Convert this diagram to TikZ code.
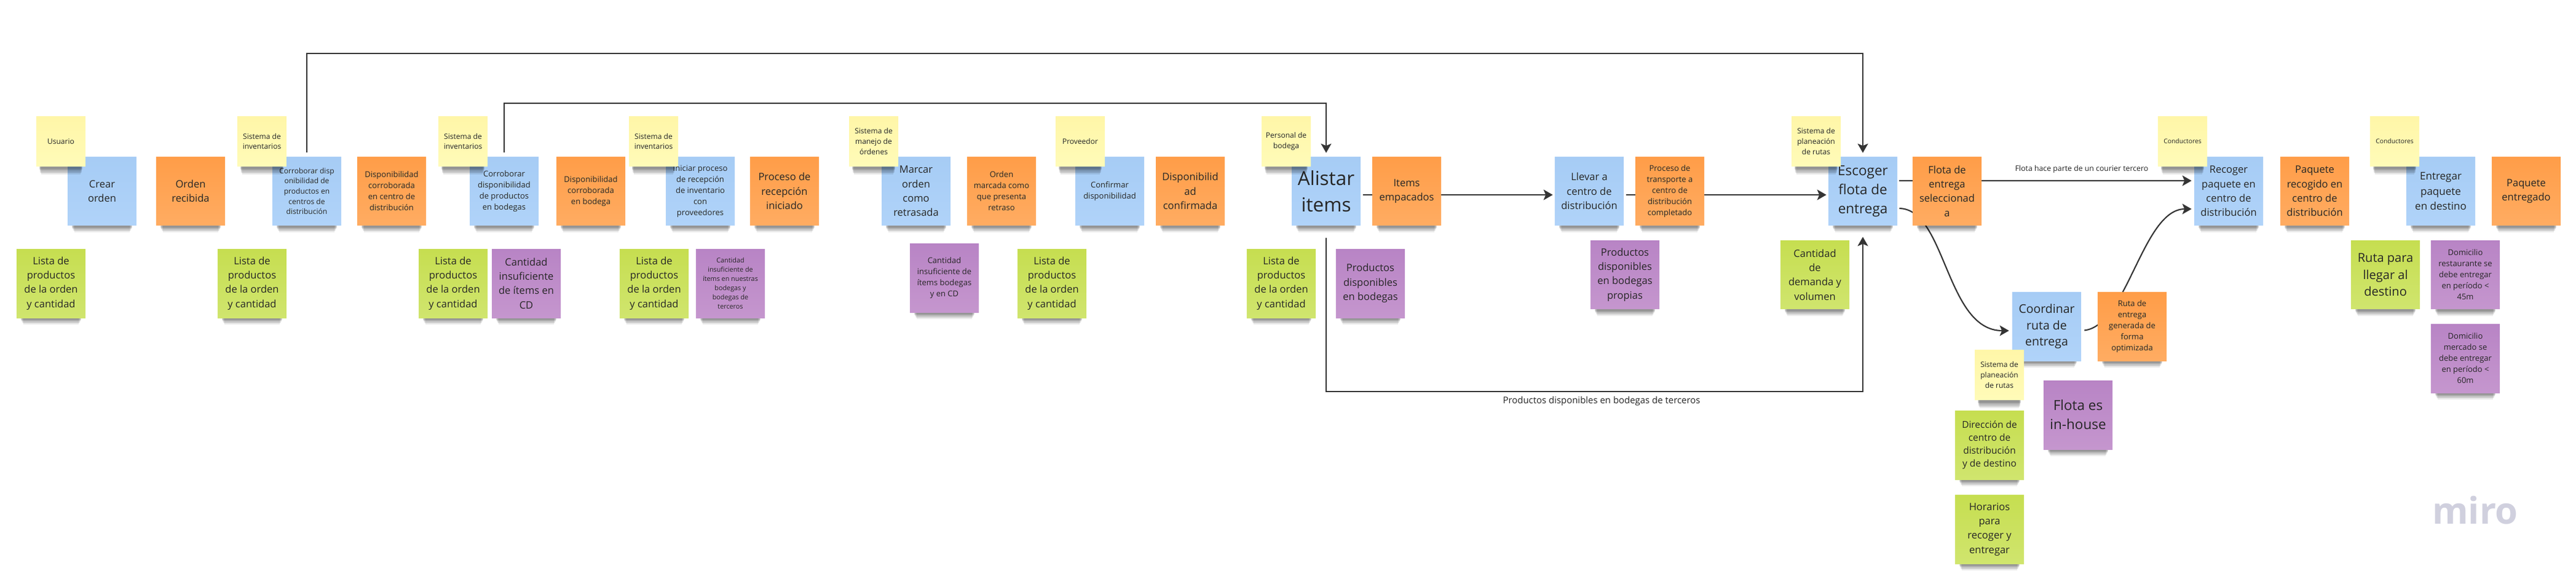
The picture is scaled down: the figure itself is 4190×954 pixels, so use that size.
\documentclass[tikz,border=0pt]{standalone}
\usepackage{fontspec}
\setmainfont{Open Sans}
\usepackage{xcolor}
\usetikzlibrary{arrows.meta, positioning, shadows}
\definecolor{activity}{RGB}{166,204,245}
\definecolor{activitylow}{RGB}{176,211,249}
\definecolor{event}{RGB}{255,157,72}
\definecolor{eventlow}{RGB}{255,172,98}
\definecolor{actor}{RGB}{255,246,168}
\definecolor{actorlow}{RGB}{255,251,184}
\definecolor{input}{RGB}{198,222,80}
\definecolor{inputlow}{RGB}{208,229,110}
\definecolor{issue}{RGB}{184,132,197}
\definecolor{issuelow}{RGB}{197,150,206}
\definecolor{wire}{RGB}{52,52,52}
\definecolor{brand}{RGB}{208,208,222}
\tikzset{
    softlayer/.style 2 args={general shadow={shadow scale=#1, shadow xshift=0pt, shadow yshift=-#2, fill=black, opacity=.075}},
    note/.style={rectangle, minimum width=2.24cm, minimum height=2.24cm, inner sep=0pt, text centered, align=center, text=black!85,
        softlayer={.80}{.55cm}, softlayer={.82}{.47cm}, softlayer={.84}{.40cm}, softlayer={.85}{.34cm},
        softlayer={.86}{.29cm}, softlayer={.87}{.25cm}, softlayer={.88}{.21cm}},
    activitynote/.style={note, top color=activity, bottom color=activitylow},
    eventnote/.style={note, top color=event, bottom color=eventlow},
    inputnote/.style={note, top color=input, bottom color=inputlow},
    issuenote/.style={note, top color=issue, bottom color=issuelow},
    actornote/.style={note, minimum width=1.6cm, minimum height=1.62cm, top color=actor, bottom color=actorlow, font=\fontsize{6.85}{9.5}\selectfont},
    fmed/.style={font=\fontsize{9.4}{13.3}\selectfont},
    fsmall/.style={font=\fontsize{7.4}{10.25}\selectfont},
    ftiny/.style={font=\fontsize{6.15}{8.5}\selectfont},
    flink/.style={->, line width=1.2pt, color=wire, >={Stealth[length=0.3cm, width=0.34cm, inset=0.07cm]}},
    wirelabel/.style={text=black!85, inner sep=0pt}
}
\begin{document}
\begin{tikzpicture}[x=0.02cm, y=-0.02cm]
    \useasboundingbox (0,0) rectangle (4190,954);

    % Activities
    \node[activitynote, fmed] (crear) at (166,311) {Crear\\ orden};
    \node[activitynote, font=\fontsize{6.85}{9.5}\selectfont] (corrcd) at (499,311) {Corroborar disp\\ onibilidad de\\ productos en\\ centros de\\ distribución};
    \node[activitynote, fsmall] (corrbod) at (820,311) {Corroborar\\ disponibilidad\\ de productos\\ en bodegas};
    \node[activitynote, fsmall] (iniciar) at (1139,311) {Iniciar proceso\\ de recepción\\ de inventario\\ con\\ proveedores};
    \node[activitynote, fmed] (marcar) at (1490,311) {Marcar\\ orden\\ como\\ retrasada};
    \node[activitynote, fsmall] (confirmar) at (1805,311) {Confirmar\\ disponibilidad};
    \node[activitynote, font=\fontsize{17.9}{24.7}\selectfont] (alistar) at (2157,311) {Alistar\\ items};
    \node[activitynote, fmed] (llevar) at (2585,311) {Llevar a\\ centro de\\ distribución};
    \node[activitynote, font=\fontsize{12.8}{17.6}\selectfont] (escoger) at (3030,311) {Escoger\\ flota de\\ entrega};
    \node[activitynote, font=\fontsize{11.1}{15.2}\selectfont] (coordinar) at (3329,531) {Coordinar\\ ruta de\\ entrega};
    \node[activitynote, fmed] (recoger) at (3625,311) {Recoger\\ paquete en\\ centro de\\ distribución};
    \node[activitynote, font=\fontsize{9.7}{13.7}\selectfont] (entregar) at (3970,311) {Entregar\\ paquete\\ en destino};

    % Flows, behind the events
    \coordinate (topfar) at (3030,87);
    \coordinate (topnear) at (2157,168);
    \coordinate (lowleft) at (2157,637);
    \coordinate (lowright) at (3030,637);
    \draw[flink, shorten <=0.14cm, shorten >=0.12cm] (corrcd.north) |- (topfar) -- (escoger.north);
    \draw[flink, shorten <=0.14cm, shorten >=0.12cm] (corrbod.north) |- (topnear) -- (alistar.north);
    \draw[flink, shorten <=0.08cm, shorten >=0.06cm] ([yshift=-0.12cm]alistar.east) -- ([yshift=-0.12cm]llevar.west);
    \draw[flink, shorten <=0.08cm, shorten >=0.06cm] ([yshift=-0.12cm]llevar.east) -- ([yshift=-0.12cm]escoger.west);
    \draw[flink, shorten <=0.4cm, shorten >=0.36cm] (alistar.south) -- (lowleft) -- (lowright) -- (escoger.south);
    \draw[flink, shorten <=0.06cm, shorten >=0.08cm] ([yshift=0.34cm]escoger.east) -- ([yshift=0.34cm]recoger.west);
    \draw[flink, shorten <=0.06cm, shorten >=0.1cm] ([yshift=-0.56cm]escoger.east) .. controls (3165,340) and (3165,538) .. ([yshift=-0.14cm]coordinar.west);
    \draw[flink, shorten <=0.1cm, shorten >=0.08cm] ([yshift=-0.14cm]coordinar.east) .. controls (3460,530) and (3485,340) .. ([yshift=-0.58cm]recoger.west);
    \node[wirelabel, font=\fontsize{7}{9}\selectfont] (labelcourier) at (3386,275) {Flota hace parte de un courier tercero};
    \node[wirelabel, font=\fontsize{8.5}{11}\selectfont] (labelterceros) at (2605,653) {Productos disponibles en bodegas de terceros};

    % Events
    \node[eventnote, fmed] (recibida) at (310,311) {Orden\\ recibida};
    \node[eventnote, fsmall] (dispcd) at (637,311) {Disponibilidad\\ corroborada\\ en centro de\\ distribución};
    \node[eventnote, fsmall] (dispbod) at (961,311) {Disponibilidad\\ corroborada\\ en bodega};
    \node[eventnote, fmed] (recepcion) at (1276,311) {Proceso de\\ recepción\\ iniciado};
    \node[eventnote, fsmall] (marcada) at (1629,311) {Orden\\ marcada como\\ que presenta\\ retraso};
    \node[eventnote, fmed] (dispconf) at (1936,311) {Disponibilid\\ ad\\ confirmada};
    \node[eventnote, fmed] (empacados) at (2288,311) {Items\\ empacados};
    \node[eventnote, fsmall] (transporte) at (2716,311) {Proceso de\\ transporte a\\ centro de\\ distribución\\ completado};
    \node[eventnote, fmed] (seleccion) at (3167,311) {Flota de\\ entrega\\ seleccionad\\ a};
    \node[eventnote, fsmall] (rutagen) at (3468,531) {Ruta de\\ entrega\\ generada de\\ forma\\ optimizada};
    \node[eventnote, fmed] (recogido) at (3765,311) {Paquete\\ recogido en\\ centro de\\ distribución};
    \node[eventnote, fmed] (entregado) at (4109,311) {Paquete\\ entregado};

    % Actors
    \node[actornote] (usuario) at (99,230) {Usuario};
    \node[actornote] (inv1) at (426,230) {Sistema de\\ inventarios};
    \node[actornote] (inv2) at (753,230) {Sistema de\\ inventarios};
    \node[actornote] (inv3) at (1063,230) {Sistema de\\ inventarios};
    \node[actornote] (manejo) at (1421,230) {Sistema de\\ manejo de\\ órdenes};
    \node[actornote] (proveedor) at (1757,230) {Proveedor};
    \node[actornote] (personal) at (2092,230) {Personal de\\ bodega};
    \node[actornote] (plan1) at (2954,230) {Sistema de\\ planeación\\ de rutas};
    \node[actornote, font=\fontsize{5.9}{8}\selectfont] (cond1) at (3550,230) {Conductores};
    \node[actornote, font=\fontsize{5.9}{8}\selectfont] (cond2) at (3895,230) {Conductores};
    \node[actornote] (plan2) at (3252,610) {Sistema de\\ planeación\\ de rutas};

    % Inputs
    \node[inputnote, fmed] (lista1) at (83,461) {Lista de\\ productos\\ de la orden\\ y cantidad};
    \node[inputnote, fmed] (lista2) at (410,461) {Lista de\\ productos\\ de la orden\\ y cantidad};
    \node[inputnote, fmed] (lista3) at (737,461) {Lista de\\ productos\\ de la orden\\ y cantidad};
    \node[inputnote, fmed] (lista4) at (1064,461) {Lista de\\ productos\\ de la orden\\ y cantidad};
    \node[inputnote, fmed] (lista5) at (1711,461) {Lista de\\ productos\\ de la orden\\ y cantidad};
    \node[inputnote, fmed] (lista6) at (2084,461) {Lista de\\ productos\\ de la orden\\ y cantidad};
    \node[inputnote, fmed] (demanda) at (2952,447) {Cantidad\\ de\\ demanda y\\ volumen};
    \node[inputnote, font=\fontsize{11.4}{15.8}\selectfont] (rutadest) at (3880,447) {Ruta para\\ llegar al\\ destino};
    \node[inputnote, font=\fontsize{8.8}{12.1}\selectfont] (direccion) at (3236,724) {Dirección de\\ centro de\\ distribución\\ y de destino};
    \node[inputnote, fmed] (horarios) at (3236,861) {Horarios\\ para\\ recoger y\\ entregar};

    % Issues
    \node[issuenote, fmed] (insufcd) at (856,461) {Cantidad\\ insuficiente\\ de ítems en\\ CD};
    \node[issuenote, ftiny] (insufter) at (1188,461) {Cantidad\\ insuficiente de\\ ítems en nuestras\\ bodegas y\\ bodegas de\\ terceros};
    \node[issuenote, fsmall] (insufbod) at (1536,452) {Cantidad\\ insuficiente de\\ ítems bodegas\\ y en CD};
    \node[issuenote, fmed] (dispbodegas) at (2229,461) {Productos\\ disponibles\\ en bodegas};
    \node[issuenote, fmed] (propias) at (2643,447) {Productos\\ disponibles\\ en bodegas\\ propias};
    \node[issuenote, font=\fontsize{12.8}{17.6}\selectfont] (inhouse) at (3380,675) {Flota es\\ in-house};
    \node[issuenote, fsmall] (dom1) at (4010,447) {Domicilio\\ restaurante se\\ debe entregar\\ en período <\\ 45m};
    \node[issuenote, fsmall] (dom2) at (4010,583) {Domicilio\\ mercado se\\ debe entregar\\ en período <\\ 60m};

    % Watermark
    \node[text=brand, inner sep=0pt, font=\fontsize{34}{40}\bfseries\selectfont] (miro) at (4026,830) {miro};
\end{tikzpicture}
\end{document}
